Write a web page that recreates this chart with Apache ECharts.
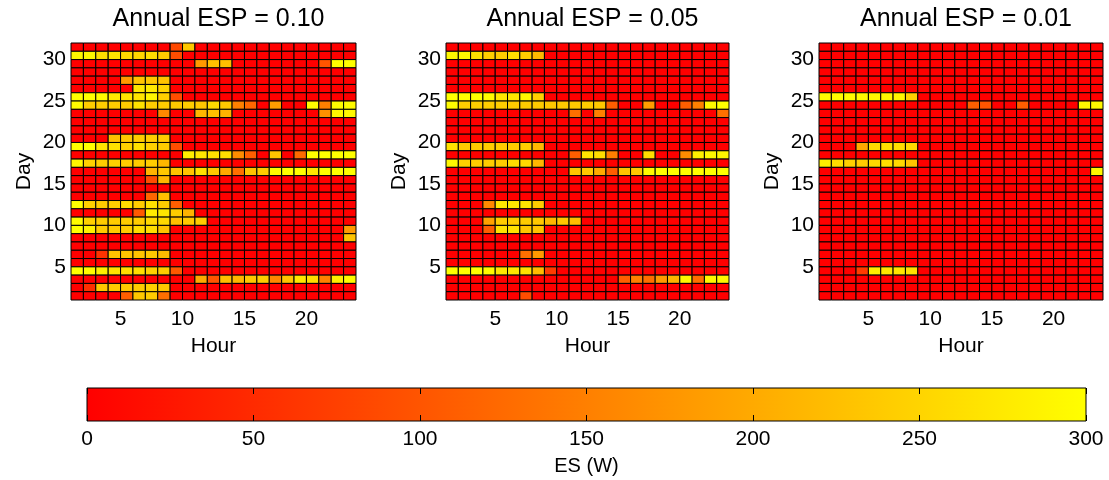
<!DOCTYPE html>
<html>
<head>
<meta charset="utf-8">
<script src="https://cdn.jsdelivr.net/npm/echarts@6/dist/echarts.min.js"></script>
<style>
  html, body { margin: 0; padding: 0; background: #fff; }
  #chart { width: 1109px; height: 480px; }
</style>
</head>
<body>
<div id="chart"></div>
<script>
// hours shown as cells (pcolor style: cell h spans h..h+1)
const hours = [1, 2, 3, 4, 5, 6, 7, 8, 9, 10, 11, 12, 13, 14, 15, 16, 17, 18, 19, 20, 21, 22, 23];
const hourLabels = [5, 10, 15, 20];
const dayLabels = [5, 10, 15, 20, 25, 30];
const panelTitles = ['Annual ESP = 0.10', 'Annual ESP = 0.05', 'Annual ESP = 0.01'];
const esRange = [0, 300];
const esTicks = [0, 50, 100, 150, 200, 250, 300];

// ES (W) per cell, rows from day 31 (top) down to day 1, columns hour 1..23
const esp010 = [
  [0,0,0,0,0,0,0,0, 85,235,0,0,0,0,0,0, 0,0,0,0,0,0,0],
  [290,290,260,270,255,250,260,240, 90,0,0,0,0,0,0,0, 0,0,0,0,0,0,0],
  [0,0,0,0,0,0,0,0, 0,0,180,225,225,0,0,0, 0,0,0,0,100,300,300],
  [0,0,0,0,0,0,0,0, 0,0,0,0,0,0,0,0, 0,0,0,0,0,0,0],
  [0,0,0,0,180,230,235,230, 0,0,0,0,0,0,0,0, 0,0,0,0,0,0,0],
  [0,0,0,0,0,270,275,250, 0,0,0,0,0,0,0,0, 0,0,0,0,0,0,0],
  [300,300,295,275,270,270,290,245, 90,0,0,0,0,0,0,0, 0,0,0,0,0,0,0],
  [295,240,240,240,240,265,240,240, 235,240,235,255,235,150,120,0, 185,0,0,295,150,295,295],
  [0,0,0,0,0,0,0,160, 0,0,215,225,210,0,0,0, 0,0,0,0,170,290,290],
  [0,0,0,0,0,0,0,0, 0,0,0,0,0,0,0,0, 0,0,0,0,0,0,0],
  [0,0,0,0,0,0,0,0, 0,0,0,0,0,0,0,0, 0,0,0,0,0,0,0],
  [0,0,0,225,235,240,240,240, 0,0,0,0,0,0,0,0, 0,0,0,0,0,0,0],
  [300,300,270,265,245,265,245,240, 90,0,0,0,0,0,0,0, 0,0,0,0,0,0,0],
  [0,0,0,0,0,0,0,0, 0,280,270,265,260,165,110,0, 230,0,125,300,300,300,300],
  [290,245,240,245,240,240,240,215, 0,0,0,0,0,0,0,0, 0,0,0,0,0,0,0],
  [0,0,0,0,0,0,210,235, 230,230,265,235,200,130,230,240, 295,300,300,270,300,300,300],
  [0,0,0,0,0,0,90,215, 0,0,0,0,0,0,0,0, 0,0,0,0,0,0,0],
  [0,0,0,0,0,0,0,0, 0,0,0,0,0,0,0,0, 0,0,0,0,0,0,0],
  [0,0,0,0,0,0,120,225, 0,0,0,0,0,0,0,0, 0,0,0,0,0,0,0],
  [300,245,240,240,260,240,265,240, 110,0,0,0,0,0,0,0, 0,0,0,0,0,0,0],
  [0,0,0,0,0,105,275,270, 240,210,0,0,0,0,0,0, 0,0,0,0,0,0,0],
  [295,245,240,240,240,240,255,255, 225,235,240,0,0,0,0,0, 0,0,0,0,0,0,0],
  [300,285,240,240,240,260,260,230, 0,0,0,0,0,0,0,0, 0,0,0,0,0,0,180],
  [0,0,0,0,0,0,0,0, 0,0,0,0,0,0,0,0, 0,0,0,0,0,0,230],
  [0,0,0,0,0,0,0,0, 0,0,0,0,0,0,0,0, 0,0,0,0,0,0,0],
  [0,0,60,230,230,230,235,220, 0,0,0,0,0,0,0,0, 0,0,0,0,0,0,0],
  [0,0,0,0,0,0,0,0, 0,0,0,0,0,0,0,0, 0,0,0,0,0,0,0],
  [300,295,280,265,260,260,245,240, 105,0,0,0,0,0,0,0, 0,0,0,0,0,0,0],
  [0,0,0,0,0,0,0,0, 0,0,200,100,225,215,235,240, 160,230,270,260,150,280,295],
  [0,55,235,235,235,240,245,235, 0,0,0,0,0,0,0,0, 0,0,0,0,0,0,0],
  [0,0,0,0,110,235,240,130, 0,0,0,0,0,0,0,0, 0,0,0,0,0,0,0]
];

const esp005 = [
  [0,0,0,0,0,0,0,0, 0,0,0,0,0,0,0,0, 0,0,0,0,0,0,0],
  [290,290,265,245,240,260,240,220, 0,0,0,0,0,0,0,0, 0,0,0,0,0,0,0],
  [0,0,0,0,0,0,0,0, 0,0,0,0,0,0,0,0, 0,0,0,0,0,0,0],
  [0,0,0,0,0,0,0,0, 0,0,0,0,0,0,0,0, 0,0,0,0,0,0,0],
  [0,0,0,0,0,0,0,0, 0,0,0,0,0,0,0,0, 0,0,0,0,0,0,0],
  [0,0,0,0,0,0,0,0, 0,0,0,0,0,0,0,0, 0,0,0,0,0,0,0],
  [300,300,300,295,270,270,290,245, 0,0,0,0,0,0,0,0, 0,0,0,0,0,0,0],
  [295,240,240,240,240,240,240,240, 235,235,235,240,235,110,0,0, 185,0,0,110,150,290,300],
  [0,0,0,0,0,0,0,0, 0,0,130,0,150,0,0,0, 0,0,0,0,0,0,130],
  [0,0,0,0,0,0,0,0, 0,0,0,0,0,0,0,0, 0,0,0,0,0,0,0],
  [0,0,0,0,0,0,0,0, 0,0,0,0,0,0,0,0, 0,0,0,0,0,0,0],
  [0,0,0,0,0,0,0,0, 0,0,0,0,0,0,0,0, 0,0,0,0,0,0,0],
  [265,240,240,240,240,240,240,215, 0,0,0,0,0,0,0,0, 0,0,0,0,0,0,0],
  [0,0,0,0,0,0,0,0, 0,0,110,270,260,150,0,0, 260,0,0,165,280,290,290],
  [290,245,240,240,240,260,255,215, 0,0,0,0,0,0,0,0, 0,0,0,0,0,0,0],
  [0,0,0,0,0,0,0,0, 0,0,235,235,200,110,230,235, 295,300,300,300,300,300,300],
  [0,0,0,0,0,0,0,0, 0,0,0,0,0,0,0,0, 0,0,0,0,0,0,0],
  [0,0,0,0,0,0,0,0, 0,0,0,0,0,0,0,0, 0,0,0,0,0,0,0],
  [0,0,0,0,0,0,0,0, 0,0,0,0,0,0,0,0, 0,0,0,0,0,0,0],
  [0,0,0,160,270,270,270,240, 0,0,0,0,0,0,0,0, 0,0,0,0,0,0,0],
  [0,0,0,0,0,0,0,0, 0,0,0,0,0,0,0,0, 0,0,0,0,0,0,0],
  [0,0,0,190,240,240,240,235, 215,235,225,0,0,0,0,0, 0,0,0,0,0,0,0],
  [0,0,0,110,265,265,235,230, 0,0,0,0,0,0,0,0, 0,0,0,0,0,0,0],
  [0,0,0,0,0,0,0,0, 0,0,0,0,0,0,0,0, 0,0,0,0,0,0,0],
  [0,0,0,0,0,0,0,0, 0,0,0,0,0,0,0,0, 0,0,0,0,0,0,0],
  [0,0,0,0,0,0,130,180, 0,0,0,0,0,0,0,0, 0,0,0,0,0,0,0],
  [0,0,0,0,0,0,0,0, 0,0,0,0,0,0,0,0, 0,0,0,0,0,0,0],
  [300,300,300,295,270,270,265,220, 70,0,0,0,0,0,0,0, 0,0,0,0,0,0,0],
  [0,0,0,0,0,0,0,0, 0,0,0,0,0,0,110,150, 130,180,210,290,130,290,290],
  [0,0,0,0,0,0,0,0, 0,0,0,0,0,0,0,0, 0,0,0,0,0,0,0],
  [0,0,0,0,0,0,90,0, 0,0,0,0,0,0,0,0, 0,0,0,0,0,0,0]
];

const esp001 = [
  [0,0,0,0,0,0,0,0, 0,0,0,0,0,0,0,0, 0,0,0,0,0,0,0],
  [0,0,0,0,0,0,0,0, 0,0,0,0,0,0,0,0, 0,0,0,0,0,0,0],
  [0,0,0,0,0,0,0,0, 0,0,0,0,0,0,0,0, 0,0,0,0,0,0,0],
  [0,0,0,0,0,0,0,0, 0,0,0,0,0,0,0,0, 0,0,0,0,0,0,0],
  [0,0,0,0,0,0,0,0, 0,0,0,0,0,0,0,0, 0,0,0,0,0,0,0],
  [0,0,0,0,0,0,0,0, 0,0,0,0,0,0,0,0, 0,0,0,0,0,0,0],
  [295,295,295,295,290,290,290,245, 0,0,0,0,0,0,0,0, 0,0,0,0,0,0,0],
  [0,0,0,0,0,0,0,0, 0,0,0,0,110,100,0,0, 110,0,0,0,0,290,290],
  [0,0,0,0,0,0,0,0, 0,0,0,0,0,0,0,0, 0,0,0,0,0,0,0],
  [0,0,0,0,0,0,0,0, 0,0,0,0,0,0,0,0, 0,0,0,0,0,0,0],
  [0,0,0,0,0,0,0,0, 0,0,0,0,0,0,0,0, 0,0,0,0,0,0,0],
  [0,0,0,0,0,0,0,0, 0,0,0,0,0,0,0,0, 0,0,0,0,0,0,0],
  [0,0,0,200,260,260,260,255, 0,0,0,0,0,0,0,0, 0,0,0,0,0,0,0],
  [0,0,0,0,0,0,0,0, 0,0,0,0,0,0,0,0, 0,0,0,0,0,0,0],
  [280,260,245,240,255,260,255,230, 0,0,0,0,0,0,0,0, 0,0,0,0,0,0,0],
  [0,0,0,0,0,0,0,0, 0,0,0,0,0,0,0,0, 0,0,0,0,0,0,290],
  [0,0,0,0,0,0,0,0, 0,0,0,0,0,0,0,0, 0,0,0,0,0,0,0],
  [0,0,0,0,0,0,0,0, 0,0,0,0,0,0,0,0, 0,0,0,0,0,0,0],
  [0,0,0,0,0,0,0,0, 0,0,0,0,0,0,0,0, 0,0,0,0,0,0,0],
  [0,0,0,0,0,0,0,0, 0,0,0,0,0,0,0,0, 0,0,0,0,0,0,0],
  [0,0,0,0,0,0,0,0, 0,0,0,0,0,0,0,0, 0,0,0,0,0,0,0],
  [0,0,0,0,0,0,0,0, 0,0,0,0,0,0,0,0, 0,0,0,0,0,0,0],
  [0,0,0,0,0,0,0,0, 0,0,0,0,0,0,0,0, 0,0,0,0,0,0,0],
  [0,0,0,0,0,0,0,0, 0,0,0,0,0,0,0,0, 0,0,0,0,0,0,0],
  [0,0,0,0,0,0,0,0, 0,0,0,0,0,0,0,0, 0,0,0,0,0,0,0],
  [0,0,0,0,0,0,0,0, 0,0,0,0,0,0,0,0, 0,0,0,0,0,0,0],
  [0,0,0,0,0,0,0,0, 0,0,0,0,0,0,0,0, 0,0,0,0,0,0,0],
  [0,0,0,70,280,270,270,265, 0,0,0,0,0,0,0,0, 0,0,0,0,0,0,0],
  [0,0,0,0,0,0,0,0, 0,0,0,0,0,0,0,0, 0,0,0,0,0,0,0],
  [0,0,0,0,0,0,0,0, 0,0,0,0,0,0,0,0, 0,0,0,0,0,0,0],
  [0,0,0,0,0,0,0,0, 0,0,0,0,0,0,0,0, 0,0,0,0,0,0,0]
];

const panels = [esp010, esp005, esp001];
const FONT = "'Liberation Sans', Arial, Helvetica, sans-serif";

// autumn colormap: red -> yellow
function esColor(v) {
    const t = Math.max(0, Math.min(1, (v - esRange[0]) / (esRange[1] - esRange[0])));
    return 'rgb(255,' + Math.round(255 * t) + ',0)';
}

function toCells(rows) {
    const out = [];
    rows.forEach((row, i) => {
        const day = rows.length - i;
        row.forEach((v, j) => out.push([hours[j], day, v]));
    });
    return out;
}

function renderCell(params, api) {
    const h = api.value(0), d = api.value(1), v = api.value(2);
    const p0 = api.coord([h, d + 1]);
    const p1 = api.coord([h + 1, d]);
    return {
        type: 'rect',
        shape: { x: p0[0], y: p0[1], width: p1[0] - p0[0], height: p1[1] - p0[1] },
        style: { fill: esColor(v), stroke: '#000', lineWidth: 1 }
    };
}

function renderColorbar(params, api) {
    const p0 = api.coord([api.value(0), 1]);
    const p1 = api.coord([api.value(1), 0]);
    return {
        type: 'rect',
        shape: { x: p0[0], y: p0[1], width: p1[0] - p0[0], height: p1[1] - p0[1] },
        style: {
            fill: new echarts.graphic.LinearGradient(0, 0, 1, 0, [
                { offset: 0, color: esColor(esRange[0]) },
                { offset: 1, color: esColor(esRange[1]) }
            ]),
            stroke: '#000',
            lineWidth: 1
        }
    };
}

const grids = [
    { left: 71, top: 43, width: 285, height: 257 },
    { left: 446, top: 43, width: 283, height: 257 },
    { left: 819, top: 43, width: 284, height: 257 },
    { left: 87, top: 388, width: 999, height: 33 }
];

const labelStyle = { color: '#000', fontSize: 21, fontFamily: FONT };

const xAxes = [], yAxes = [], series = [], titles = [];
panels.forEach((rows, i) => {
    titles.push({
        text: panelTitles[i],
        left: grids[i].left + grids[i].width / 2,
        top: 2,
        textAlign: 'center',
        textStyle: { color: '#000', fontSize: 25, fontWeight: 'normal', fontFamily: FONT }
    });
    xAxes.push({
        type: 'value', gridIndex: i, min: 1, max: hours.length + 1, interval: 1,
        axisLine: { show: false }, axisTick: { show: false }, splitLine: { show: false },
        axisLabel: Object.assign({ margin: 9, formatter: v => hourLabels.includes(v) ? String(v) : '' }, labelStyle),
        name: 'Hour', nameLocation: 'middle', nameGap: 36,
        nameTextStyle: labelStyle
    });
    yAxes.push({
        type: 'value', gridIndex: i, min: 1, max: rows.length + 1, interval: 1,
        axisLine: { show: false }, axisTick: { show: false }, splitLine: { show: false },
        axisLabel: Object.assign({ margin: 5, padding: [5, 0, 0, 0], formatter: v => dayLabels.includes(v) ? String(v) : '' }, labelStyle),
        name: 'Day', nameLocation: 'middle', nameGap: 36,
        nameTextStyle: labelStyle
    });
    series.push({
        type: 'custom', xAxisIndex: i, yAxisIndex: i,
        renderItem: renderCell, data: toCells(rows), silent: true
    });
});

// colour bar
xAxes.push({
    type: 'value', gridIndex: 3, min: esRange[0], max: esRange[1], interval: 50, z: 10,
    axisLine: { show: false }, splitLine: { show: false },
    axisTick: { show: true, inside: true, length: 6, lineStyle: { color: '#000' } },
    axisLabel: Object.assign({ margin: 8, formatter: v => esTicks.includes(v) ? String(v) : '' }, labelStyle),
    name: 'ES (W)', nameLocation: 'middle', nameGap: 35,
    nameTextStyle: { color: '#000', fontSize: 20, fontFamily: FONT }
});
xAxes.push({
    type: 'value', gridIndex: 3, position: 'top', min: esRange[0], max: esRange[1], interval: 50, z: 10,
    axisLine: { show: false }, splitLine: { show: false },
    axisTick: { show: true, inside: true, length: 6, lineStyle: { color: '#000' } },
    axisLabel: { show: false }
});
yAxes.push({ type: 'value', gridIndex: 3, min: 0, max: 1, show: false });
series.push({
    type: 'custom', xAxisIndex: 3, yAxisIndex: 3,
    renderItem: renderColorbar, data: [[esRange[0], esRange[1]]], silent: true
});

const chart = echarts.init(document.getElementById('chart'));
chart.setOption({
    backgroundColor: '#fff',
    animation: false,
    title: titles,
    grid: grids,
    xAxis: xAxes,
    yAxis: yAxes,
    series: series
});
</script>
</body>
</html>
